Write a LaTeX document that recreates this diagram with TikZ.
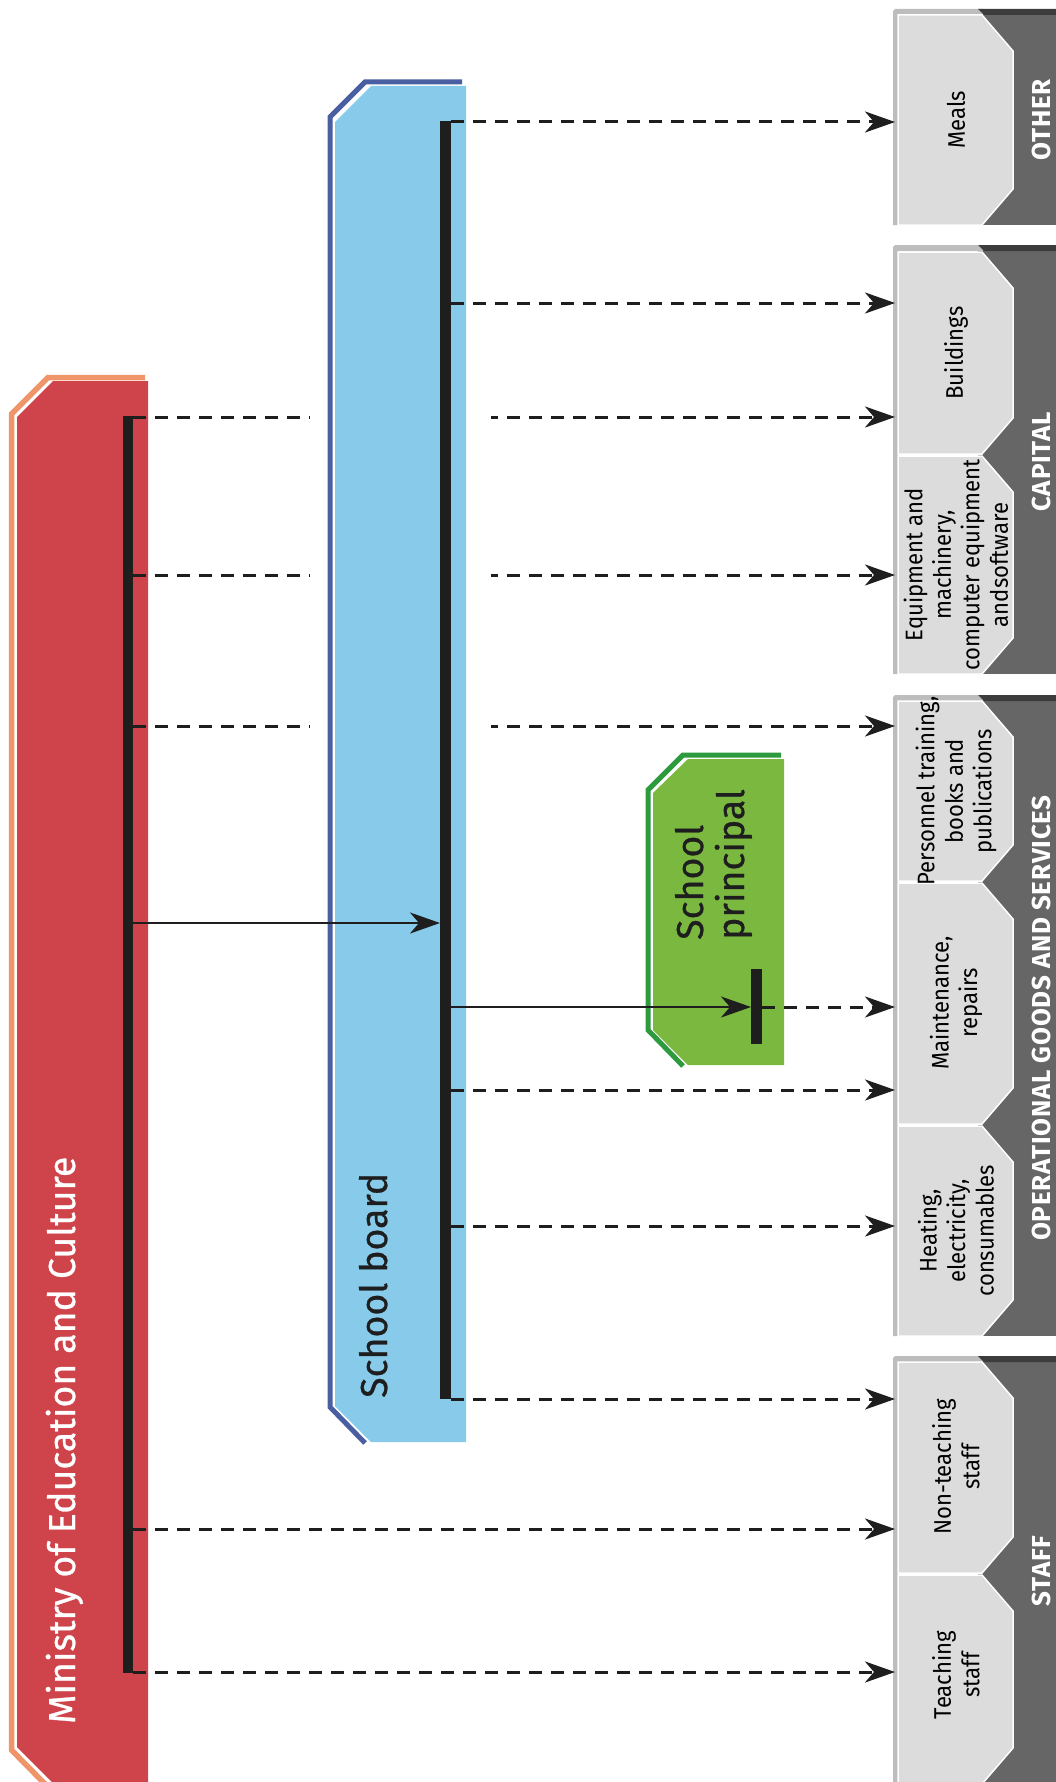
\documentclass[tikz,border=0pt]{standalone}
\usepackage{fontspec}
\setmainfont{Fira Sans}
\newfontfamily\bigfont{Fira Sans}[FakeBold=0.7]
\newfontfamily\itemfont{Fira Sans}[FakeStretch=0.92]
\usetikzlibrary{arrows.meta}
\definecolor{minred}{HTML}{CF444B}
\definecolor{minorange}{HTML}{F0956A}
\definecolor{sbblue}{HTML}{87CAEA}
\definecolor{sbdark}{HTML}{4A5FA2}
\definecolor{prgreen}{HTML}{7AB840}
\definecolor{prdark}{HTML}{2E9A3E}
\definecolor{boxlight}{HTML}{DCDCDC}
\definecolor{boxmid}{HTML}{BDBDBD}
\definecolor{catdark}{HTML}{666666}
\definecolor{catdarker}{HTML}{3C3C3C}
\definecolor{barblack}{HTML}{1E1E1E}
\newcommand\catgroup[2]{%
  \fill[catdark] (978,#1) rectangle (1056,#2);
  \fill[boxmid] (893,#1+2) -- (895,#1) -- (983,#1) -- (983,#1+6) -- (898,#1+6) -- (898,#2) -- (893,#2) -- cycle;
  \fill[catdarker] (978,#1) -- (1056,#1) -- (1056,#1+6) -- (984,#1+6) -- cycle;}
\newcommand\lightbox[2]{%
  \filldraw[fill=boxlight, draw=white, line width=1.5pt] (898,#1) -- (982,#1) -- (1013,#1+36) -- (1013,#2-36) -- (982,#2) -- (898,#2) -- cycle;}
\begin{document}
\begin{tikzpicture}[x=1pt,y=-1pt,
  dasharrow/.style={draw=barblack, line width=3pt, dash pattern=on 13pt off 9pt, -{Stealth[length=30pt,width=21pt,inset=9pt]}},
  solidarrow/.style={draw=barblack, line width=2.2pt, -{Stealth[length=30pt,width=21pt,inset=9pt]}},
  itemtext/.style={rotate=90, align=center, font=\itemfont\fontsize{24}{28.5}\selectfont, text=black, inner sep=0pt},
  cattext/.style={rotate=90, font=\bfseries\fontsize{26}{30}\selectfont\addfontfeatures{LetterSpace=3}, text=white, inner sep=0pt},
  bigtext/.style={rotate=90, anchor=base west, font=\bigfont\fontsize{37.5}{44}\selectfont, inner sep=0pt},
  bar/.style={fill=barblack, inner sep=0pt, anchor=north west},
]
\useasboundingbox (0,0) rectangle (1056,1782);
\clip (0,0) rectangle (1056,1782);
\fill[white] (0,0) rectangle (1056,1782);

% ---- right-hand categories ----
\catgroup{9}{225}
\lightbox{15}{225}
\node[itemtext] (meals) at (956,120) {Meals};
\node[cattext] (other) at (1041,120) {OTHER};

\catgroup{245}{674}
\lightbox{252}{454}
\lightbox{456}{674}
\node[itemtext] (buildings) at (956,353) {Buildings};
\node[itemtext] (equipment) at (956,565) {Equipment and\\machinery,\\computer equipment\\andsoftware};
\node[cattext] (capital) at (1041,462) {CAPITAL};

\catgroup{695}{1336}
\lightbox{701}{881}
\lightbox{883}{1124}
\lightbox{1126}{1336}
\node[itemtext] (personnel) at (956,791) {Personnel training,\\books and\\publications};
\node[itemtext] (maintenance) at (956,1003) {Maintenance,\\repairs};
\node[itemtext] (heating) at (956,1231) {Heating,\\electricity,\\consumables};
\node[cattext] (opgoods) at (1041,1018) {OPERATIONAL GOODS AND SERVICES};

\catgroup{1356}{1790}
\lightbox{1362}{1573}
\lightbox{1575}{1784}
\node[itemtext] (nonteaching) at (956,1467) {Non-teaching\\staff};
\node[itemtext] (teaching) at (956,1675) {Teaching\\staff};
\node[cattext] (staff) at (1041,1571) {STAFF};

% arrow end points at the categories
\coordinate (inMeals) at (895,122);
\coordinate (inBuildA) at (895,303);
\coordinate (inBuildB) at (895,417);
\coordinate (inEquip) at (895,575);
\coordinate (inPers) at (895,726);
\coordinate (inMaint) at (895,1007);
\coordinate (inMaintB) at (895,1090);
\coordinate (inHeat) at (895,1226);
\coordinate (inNonT) at (895,1399);
\coordinate (inNonTB) at (895,1529);
\coordinate (inTeach) at (895,1672);

% ---- Ministry ----
\draw[minorange, line width=5.5pt] (145,377.5) -- (48,377.5) -- (11.5,414) -- (11.5,1750) -- (45,1784);
\fill[minred] (17,417) -- (53,381) -- (148,381) -- (148,1782) -- (52,1782) -- (17,1747) -- cycle;
\node[bigtext, text=white] (mintext) at (75,1724) {Ministry of Education and Culture};
\node[bar, minimum width=10pt, minimum height=1257pt] (minbar) at (123,416) {};

\draw[dasharrow] (minbar.east |- inBuildB) -- (inBuildB);
\draw[dasharrow] (minbar.east |- inEquip) -- (inEquip);
\draw[dasharrow] (minbar.east |- inPers) -- (inPers);
\draw[dasharrow] (minbar.east |- inNonTB) -- (inNonTB);
\draw[dasharrow] (minbar.east |- inTeach) -- (inTeach);

% ---- School board ----
\fill[white] (310,78) rectangle (491,1446);
\draw[sbdark, line width=5pt] (462,82) -- (365,82) -- (330,117) -- (330,1407) -- (365,1443);
\fill[sbblue] (335,122) -- (371,86) -- (466,86) -- (466,1442) -- (371,1442) -- (335,1406) -- cycle;
\node[bigtext, text=barblack] (sbtext) at (387,1398) {School board};
\node[bar, minimum width=11pt, minimum height=1278pt] (sbbar) at (440,121) {};

% ---- School principal ----
\draw[prdark, line width=5pt] (781,755) -- (683,755) -- (648,790) -- (648,1030) -- (683,1066);
\fill[prgreen] (653,793) -- (688,759) -- (784,759) -- (784,1065) -- (688,1065) -- (653,1030) -- cycle;
\node[bigtext, text=barblack] (prtext1) at (703,940) {School};
\node[bigtext, text=barblack] (prtext2) at (744,940) {principal};
\node[bar, minimum width=11pt, minimum height=75pt] (prbar) at (751,969) {};

% ---- connectors ----
\draw[solidarrow] (minbar.east |- 0,923) -- (sbbar.west |- 0,923);
\draw[solidarrow] (sbbar.east |- inMaint) -- (prbar.west |- inMaint);
\draw[dasharrow] (prbar.east |- inMaint) -- (inMaint);
\draw[dasharrow] (sbbar.east |- inMeals) -- (inMeals);
\draw[dasharrow] (sbbar.east |- inBuildA) -- (inBuildA);
\draw[dasharrow] (sbbar.east |- inMaintB) -- (inMaintB);
\draw[dasharrow] (sbbar.east |- inHeat) -- (inHeat);
\draw[dasharrow] (sbbar.east |- inNonT) -- (inNonT);
\end{tikzpicture}
\end{document}
